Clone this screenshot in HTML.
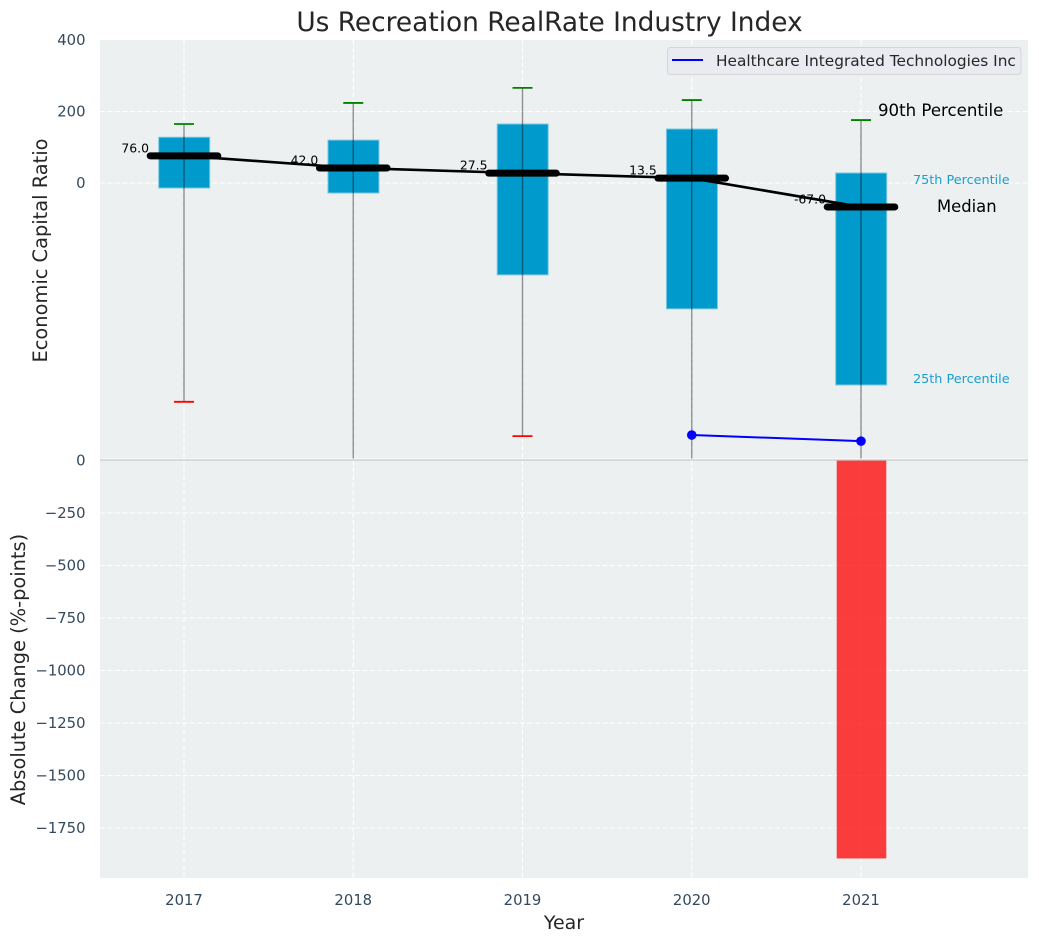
<!DOCTYPE html>
<html>
<head>
<meta charset="utf-8">
<title>Us Recreation RealRate Industry Index</title>
<style>
html,body{margin:0;padding:0;background:#fff;}
svg{display:block;}
text{font-family:"DejaVu Sans","Liberation Sans",sans-serif;}
</style>
</head>
<body>
<svg id="chart" xmlns="http://www.w3.org/2000/svg" width="1039" height="942" viewBox="0 0 1039 942">
  <defs>
    <clipPath id="clip-top"><rect x="100" y="40" width="928" height="418.5"/></clipPath>
    <clipPath id="clip-bottom"><rect x="100" y="460" width="928" height="418"/></clipPath>
  </defs>
  <rect x="100" y="40" width="928" height="419.5" fill="#ecf0f1"/>
  <rect x="100" y="460" width="928" height="418" fill="#ecf0f1"/>
  <g id="grid"></g>
  <g id="top-marks" clip-path="url(#clip-top)"></g>
  <g id="bottom-marks" clip-path="url(#clip-bottom)"></g>
  <line x1="100" x2="1028" y1="459" y2="459" stroke="#ffffff" stroke-width="1"/>
  <line x1="100" x2="1028" y1="460" y2="460" stroke="#c8c8c8" stroke-width="1.2"/>
  <g id="ticks"></g>

  <text x="549.5" y="31" text-anchor="middle" font-size="26.4" fill="#262626">Us Recreation RealRate Industry Index</text>
  <text transform="translate(47,250.5) rotate(-90)" text-anchor="middle" font-size="19.4" fill="#262626">Economic Capital Ratio</text>
  <text transform="translate(25,669.5) rotate(-90)" text-anchor="middle" font-size="19.4" fill="#262626">Absolute Change (%-points)</text>
  <text x="564" y="929" text-anchor="middle" font-size="19" fill="#262626">Year</text>

  <text x="878" y="116" font-size="16.6" fill="#000">90th Percentile</text>
  <text x="913" y="184" font-size="12.8" fill="#1a9fcf">75th Percentile</text>
  <text x="937" y="212" font-size="16.4" fill="#000">Median</text>
  <text x="913" y="383" font-size="12.8" fill="#1a9fcf">25th Percentile</text>

  <g>
    <rect x="667.5" y="47.5" width="353.5" height="27" rx="3" ry="3" fill="#e9ebf0" stroke="#d3d5d9" stroke-width="1"/>
    <line x1="672" x2="703" y1="60" y2="60" stroke="#0000ff" stroke-width="2"/>
    <text x="716" y="66" font-size="15.35" fill="#262626">Healthcare Integrated Technologies Inc</text>
  </g>
</svg>
<script>
var years = [2017, 2018, 2019, 2020, 2021];
var p90 = [165, 224, 266, 232, 176];
var p75 = [128, 120, 165, 151, 28];
var medians = [76, 42, 27.5, 13.5, -67];
var p25 = [-14, -28, -257, -352, -565];
var p10 = [-612, -800, -708, -800, -800];
var companyValues = [null, null, null, -705, -722];
var absoluteChange = [null, null, null, null, -1895];
var topTicks = [400, 200, 0];
var bottomTicks = [0, -250, -500, -750, -1000, -1250, -1500, -1750];

var NS = 'http://www.w3.org/2000/svg';
function xPos(year) { return 184 + (year - 2017) * 169.25; }
function yTop(v) { return 183 - v * 0.3575; }
function yBottom(v) { return 460.5 - v * 0.21; }
function make(parent, tag, props) {
  var n = document.createElementNS(NS, tag);
  for (var k in props) { n.setAttribute(k, props[k]); }
  parent.appendChild(n);
  return n;
}
var grid = document.getElementById('grid');
var topMarks = document.getElementById('top-marks');
var bottomMarks = document.getElementById('bottom-marks');
var ticks = document.getElementById('ticks');
function gridLine(x1, y1, x2, y2, name) {
  var el = make(grid, 'line', { x1: x1, y1: y1, x2: x2, y2: y2, stroke: '#ffffff', 'stroke-width': 1.1, 'stroke-dasharray': '5 2.5' });
  
  
}
function tickLabel(x, y, anchor, str) {
  var el = make(ticks, 'text', { x: x, y: y, 'text-anchor': anchor, 'font-size': 14.8, fill: '#34495e' });
  el.textContent = str;
  
  
}
topTicks.forEach(function (t) {
  if (t !== 400) { gridLine(100, yTop(t), 1028, yTop(t), 'top-y-gridline'); }
  tickLabel(85.5, yTop(t) + 5, 'end', String(t));
});
bottomTicks.forEach(function (t) {
  if (t !== 0) { gridLine(100, yBottom(t), 1028, yBottom(t), 'bottom-y-gridline'); }
  tickLabel(85.5, yBottom(t) + 5, 'end', String(t).replace('-', '\u2212'));
});
years.forEach(function (yr) {
  var x = xPos(yr);
  gridLine(x, 40, x, 878, 'x-gridline');
  tickLabel(x, 905, 'middle', String(yr));
});

// boxes
years.forEach(function (yr, i) {
  var x = xPos(yr);
  var el = make(topMarks, 'rect', { x: x - 25.3, y: yTop(p75[i]), width: 51, height: yTop(p25[i]) - yTop(p75[i]), fill: '#009acd', stroke: '#7cc7e2', 'stroke-width': 1 });
  
  
});
// whiskers and caps
years.forEach(function (yr, i) {
  var x = xPos(yr);
  var w = make(topMarks, 'line', { x1: x, x2: x, y1: yTop(p90[i]), y2: yTop(p10[i]), stroke: '#000', 'stroke-opacity': 0.42, 'stroke-width': 1.4 });
  
  
  var c1 = make(topMarks, 'line', { x1: x - 10, x2: x + 10, y1: yTop(p90[i]), y2: yTop(p90[i]), stroke: '#008000', 'stroke-width': 1.8 });
  
  
  var c2 = make(topMarks, 'line', { x1: x - 10, x2: x + 10, y1: yTop(p10[i]), y2: yTop(p10[i]), stroke: '#ff0000', 'stroke-width': 1.8 });
  
  
});
// median trend line
var medianPts = years.map(function (yr, i) { return xPos(yr) + ',' + yTop(medians[i]); }).join(' ');
var trend = make(topMarks, 'polyline', { points: medianPts, fill: 'none', stroke: '#000', 'stroke-width': 2.6 });


// median bars and labels
years.forEach(function (yr, i) {
  var x = xPos(yr);
  var y = yTop(medians[i]);
  var m = make(topMarks, 'line', { x1: x - 33.8, x2: x + 33.8, y1: y, y2: y, stroke: '#000', 'stroke-width': 7, 'stroke-linecap': 'round' });
  
  
  var t = make(topMarks, 'text', { x: x - 35, y: y - 3.5, 'text-anchor': 'end', 'font-size': 12.4, fill: '#000' });
  t.textContent = medians[i].toFixed(1);
  
  
});
// company series
var pts = [];
years.forEach(function (yr, i) {
  if (companyValues[i] !== null) { pts.push(xPos(yr) + ',' + yTop(companyValues[i])); }
});
var companyLine = make(topMarks, 'polyline', { points: pts.join(' '), fill: 'none', stroke: '#0000ff', 'stroke-width': 2 });


years.forEach(function (yr, i) {
  if (companyValues[i] === null) { return; }
  var d = make(topMarks, 'circle', { cx: xPos(yr), cy: yTop(companyValues[i]), r: 4.8, fill: '#0000ff' });
  
  
});
// absolute change bars
years.forEach(function (yr, i) {
  if (absoluteChange[i] === null) { return; }
  var y0 = yBottom(0);
  var y1 = yBottom(absoluteChange[i]);
  var b = make(bottomMarks, 'rect', { x: xPos(yr) - 24.3, y: Math.min(y0, y1), width: 49.6, height: Math.abs(y1 - y0), fill: '#ff0000', 'fill-opacity': 0.75 });
  
  
});
</script>
</body>
</html>
